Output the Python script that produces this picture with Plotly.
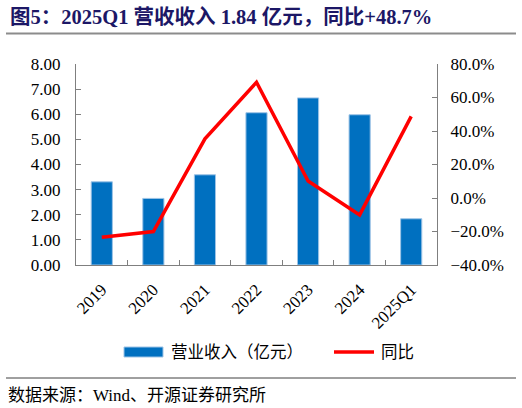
import plotly.graph_objects as go

categories = ["2019", "2020", "2021", "2022", "2023", "2024", "2025Q1"]
revenue = [3.31, 2.65, 3.59, 6.06, 6.65, 5.98, 1.84]
yoy = [-23.5, -20.0, 35.3, 69.1, 10.1, -10.1, 48.7]

W, H = 522, 408
L, R, T, B = 76, 437, 64, 265

SERIF = "Liberation Serif, Noto Sans CJK SC, serif"
BAR_C = "#0070C0"
LINE_C = "#FF0000"


def px(x):
    return (x - L) / (R - L)


def py(y):
    return (B - y) / (B - T)


fig = go.Figure()
fig.add_trace(go.Bar(
    x=categories, y=revenue, name="营业收入（亿元）",
    marker=dict(color=BAR_C, line=dict(color="#9DC3E6", width=1)),
    width=0.41, showlegend=False, yaxis="y",
))
fig.add_trace(go.Scatter(
    x=categories, y=yoy, name="同比", mode="lines",
    line=dict(color=LINE_C, width=3.5), showlegend=False, yaxis="y2",
))

axis_common = dict(
    showline=True, linecolor="#7f7f7f", linewidth=1,
    ticks="inside", ticklen=5, tickcolor="#7f7f7f",
    showgrid=False, zeroline=False,
    tickfont=dict(family=SERIF, size=17, color="#000000"),
)

fig.update_layout(
    width=W, height=H,
    margin=dict(l=L, r=W - R, t=T, b=H - B, pad=0),
    paper_bgcolor="white", plot_bgcolor="white",
    xaxis=dict(
        type="category", tickson="boundaries", tickangle=-45,
        ticklabelstandoff=7, **axis_common,
    ),
    yaxis=dict(range=[0, 8], dtick=1, tickformat=".2f",
               ticklabelstandoff=11, **axis_common),
    yaxis2=dict(range=[-40, 80], dtick=20, tickformat=".1f", ticksuffix="%",
                overlaying="y", side="right", ticklabelstandoff=9, **axis_common),
    showlegend=False,
)

shapes = []
annotations = []

# Title and rule
annotations.append(dict(
    x=px(8), y=py(17), xref="paper", yref="paper", xanchor="left", yanchor="middle",
    text="<b>图5：2025Q1 营收收入 1.84 亿元，同比+48.7%</b>", showarrow=False,
    font=dict(family=SERIF, size=20.5, color="#1C1766"),
))
shapes.append(dict(type="line", xref="paper", yref="paper",
                   x0=px(6), x1=px(516), y0=py(33.5), y1=py(33.5),
                   line=dict(color="#8c8c8c", width=2)))

# Legend
shapes.append(dict(type="rect", xref="paper", yref="paper",
                   x0=px(124), x1=px(163), y0=py(347), y1=py(357),
                   fillcolor=BAR_C, line=dict(color="#9DC3E6", width=1)))
annotations.append(dict(
    x=px(169), y=py(352), xref="paper", yref="paper", xanchor="left", yanchor="middle",
    text="营业收入（亿元）", showarrow=False,
    font=dict(family=SERIF, size=16.5, color="#000000"),
))
shapes.append(dict(type="line", xref="paper", yref="paper",
                   x0=px(334), x1=px(374), y0=py(352), y1=py(352),
                   line=dict(color=LINE_C, width=3.5)))
annotations.append(dict(
    x=px(379), y=py(352), xref="paper", yref="paper", xanchor="left", yanchor="middle",
    text="同比", showarrow=False,
    font=dict(family=SERIF, size=16.5, color="#000000"),
))

# Footer
shapes.append(dict(type="line", xref="paper", yref="paper",
                   x0=px(6), x1=px(516), y0=py(378), y1=py(378),
                   line=dict(color="#404040", width=1)))
annotations.append(dict(
    x=px(6), y=py(395), xref="paper", yref="paper", xanchor="left", yanchor="middle",
    text="数据来源：Wind、开源证券研究所", showarrow=False,
    font=dict(family=SERIF, size=17, color="#000000"),
))

fig.update_layout(shapes=shapes, annotations=annotations)
fig.write_html("out.html", config={"displayModeBar": False},
               post_script="document.body.style.margin='0';document.body.style.overflow='hidden';")
